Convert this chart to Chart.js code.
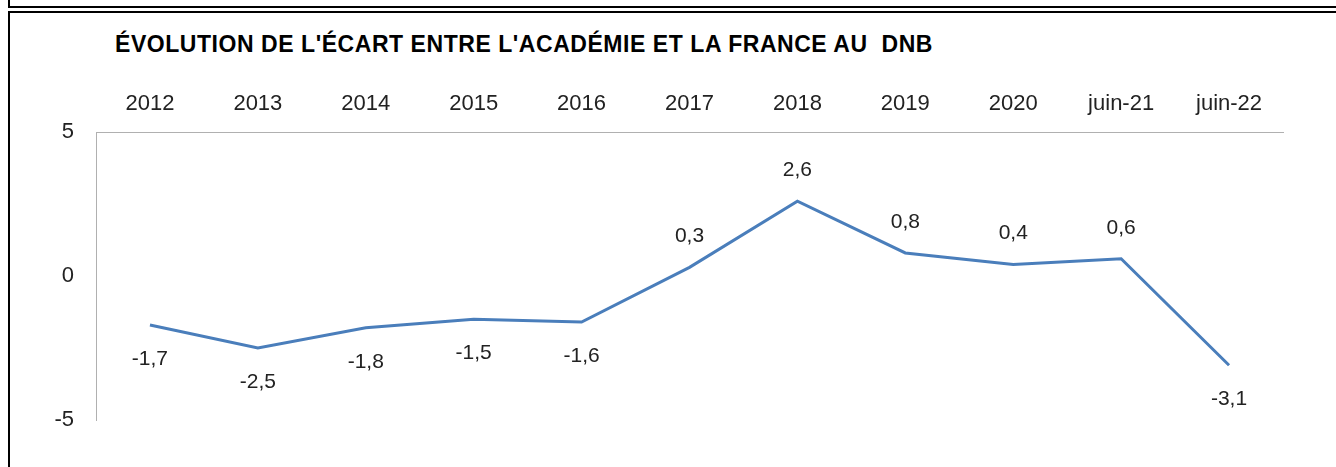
<!DOCTYPE html>
<html>
<head>
<meta charset="utf-8">
<script src="https://cdn.jsdelivr.net/npm/chart.js@4/dist/chart.umd.min.js"></script>
<style>
  body { margin: 0; background: #fff; overflow: hidden; }
  .wrap { position: relative; width: 1336px; height: 467px; overflow: hidden; }
  .boxTop { position: absolute; left: 8px; top: -10px; width: 1400px; height: 14px; border: 2px solid #000; }
  .boxMain { position: absolute; left: 8px; top: 11px; width: 1400px; height: 500px; border: 2px solid #000; }
  .title { position: absolute; left: 115px; top: 31px; font: bold 23px "Liberation Sans", Arial, sans-serif; color: #000; letter-spacing: 0.55px; white-space: nowrap; }
  canvas { position: absolute; left: 0; top: 0; }
</style>
</head>
<body>
<div class="wrap">
  <div class="boxTop"></div>
  <div class="boxMain"></div>
  <div class="title">ÉVOLUTION DE L'ÉCART ENTRE L'ACADÉMIE ET LA FRANCE AU&nbsp; DNB</div>
  <canvas id="ecartChart" width="1336" height="467"></canvas>
</div>
<script>
// données
const categories = ['2012', '2013', '2014', '2015', '2016', '2017', '2018', '2019', '2020', 'juin-21', 'juin-22'];
const ecart = [-1.7, -2.5, -1.8, -1.5, -1.6, 0.3, 2.6, 0.8, 0.4, 0.6, -3.1];
const yTicks = [5, 0, -5];

const fontFamily = '"Liberation Sans", Arial, sans-serif';
const ctx = document.getElementById('ecartChart').getContext('2d');

// étiquettes de valeurs (au-dessus si positif, en dessous si négatif)
const valueLabels = {
    id: 'valueLabels',
    afterDatasetsDraw(chart) {
        const c = chart.ctx;
        const meta = chart.getDatasetMeta(0);
        c.save();
        c.font = '21px ' + fontFamily;
        c.fillStyle = '#222';
        c.textAlign = 'center';
        c.textBaseline = 'middle';
        meta.data.forEach((pt, i) => {
            const v = ecart[i];
            const dy = v >= 0 ? -31 : 34;
            c.fillText(v.toFixed(1).replace('.', ','), pt.x, pt.y + dy);
        });
        c.restore();
    }
};

new Chart(ctx, {
    type: 'line',
    data: {
        labels: categories,
        datasets: [{
            data: ecart,
            borderColor: '#4a7ebb',
            borderWidth: 3,
            pointRadius: 0,
            tension: 0,
            fill: false
        }]
    },
    options: {
        responsive: false,
        animation: false,
        layout: { padding: { left: 20, right: 53, top: 80, bottom: 47 } },
        plugins: {
            legend: { display: false },
            tooltip: { enabled: false }
        },
        scales: {
            x: {
                position: 'top',
                offset: true,
                grid: { display: false, drawTicks: false },
                border: { display: true, color: '#b0b0b0', width: 1 },
                ticks: { color: '#222', font: { size: 22, family: fontFamily }, padding: 15, maxRotation: 0, autoSkip: false },
                afterFit: (scale) => { scale.height = 52; }
            },
            y: {
                min: -5,
                max: 5,
                grid: { display: false, drawTicks: false },
                border: { display: true, color: '#b0b0b0', width: 1 },
                afterBuildTicks: (scale) => { scale.ticks = yTicks.map(v => ({ value: v })); },
                ticks: { color: '#222', font: { size: 22, family: fontFamily }, padding: 22 },
                afterFit: (scale) => { scale.width = 76; }
            }
        }
    },
    plugins: [valueLabels]
});
</script>
</body>
</html>
